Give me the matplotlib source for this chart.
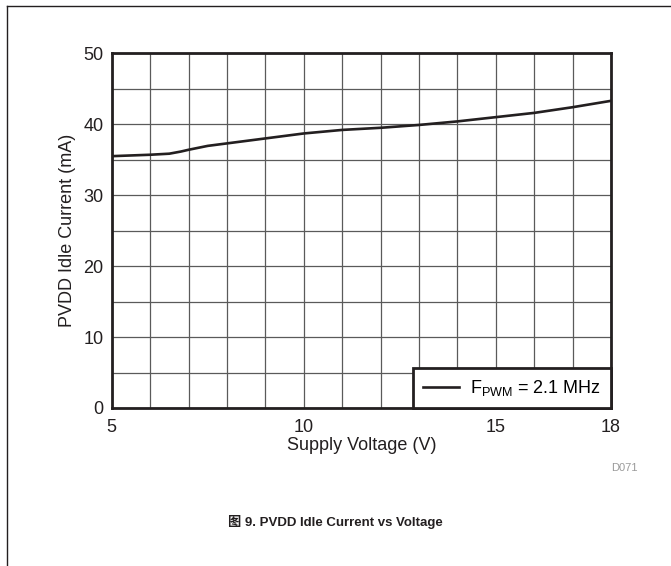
import matplotlib
matplotlib.use("Agg")
import matplotlib.pyplot as plt
from matplotlib.lines import Line2D

plt.rcParams['font.family'] = ['Liberation Sans', 'Noto Sans CJK SC', 'DejaVu Sans']
plt.rcParams['mathtext.fontset'] = 'custom'
plt.rcParams['mathtext.rm'] = 'Liberation Sans'
plt.rcParams['mathtext.it'] = 'Liberation Sans'

# Supply voltage (V) and idle current (mA)
voltage = [5, 6, 6.5, 6.8, 7, 7.5, 8, 9, 10, 11, 12, 13, 14, 15, 16, 17, 18]
current = [35.5, 35.7, 35.85, 36.15, 36.4, 36.95, 37.3, 38.0, 38.7, 39.2, 39.5, 39.9, 40.4, 41.0, 41.6, 42.4, 43.3]

x_ticks = list(range(5, 19))
x_labels = ['5', '', '', '', '', '10', '', '', '', '', '15', '', '', '18']
y_ticks = list(range(0, 51, 5))
y_labels = ['0', '', '10', '', '20', '', '30', '', '40', '', '50']

legend_label = r'F$_{\mathrm{PWM}}$ = 2.1 MHz'
x_title = 'Supply Voltage (V)'
y_title = 'PVDD Idle Current (mA)'
caption = '图 9. PVDD Idle Current vs Voltage'

fs = 13
fig = plt.figure(figsize=(6.71, 5.66), dpi=100)
ax = fig.add_axes([0.1665, 0.2792, 0.744, 0.6266])

ax.plot(voltage, current, color='#231f20', lw=1.9, label=legend_label, zorder=3,
        solid_joinstyle='round')

ax.set_xlim(5, 18)
ax.set_ylim(0, 50)
ax.set_xticks(x_ticks)
ax.set_xticklabels(x_labels)
ax.set_yticks(y_ticks)
ax.set_yticklabels(y_labels)
ax.tick_params(length=0, labelsize=fs, colors='#231f20')
ax.tick_params(axis='x', pad=8)
ax.tick_params(axis='y', pad=6)
ax.grid(True, color='#5a5a5a', lw=0.9)

for s in ax.spines.values():
    s.set_linewidth(2)
    s.set_color('#231f20')

ax.set_xlabel(x_title, fontsize=fs, labelpad=1, color='#231f20')
ax.set_ylabel(y_title, fontsize=fs, labelpad=5, color='#231f20')

leg = ax.legend(loc='lower right', borderaxespad=0, fancybox=False, framealpha=1,
                edgecolor='#231f20', fontsize=fs, handlelength=2.0,
                handletextpad=0.6, borderpad=0.55)
leg.get_frame().set_linewidth(2)
leg.set_zorder(5)

fig.text(638 / 671, 1 - 468 / 566, 'D071', fontsize=8, color='#9a9a9a',
         ha='right', va='center')
fig.text(0.5, 1 - 522 / 566, caption, fontsize=9.5, fontweight='bold',
         ha='center', va='center', color='#231f20')

# page border lines
fig.add_artist(Line2D([7 / 671, 1], [1 - 6 / 566] * 2, color='#231f20', lw=1))
fig.add_artist(Line2D([7 / 671] * 2, [0, 1 - 6 / 566], color='#231f20', lw=1))

fig.savefig('out.png', dpi=100)
